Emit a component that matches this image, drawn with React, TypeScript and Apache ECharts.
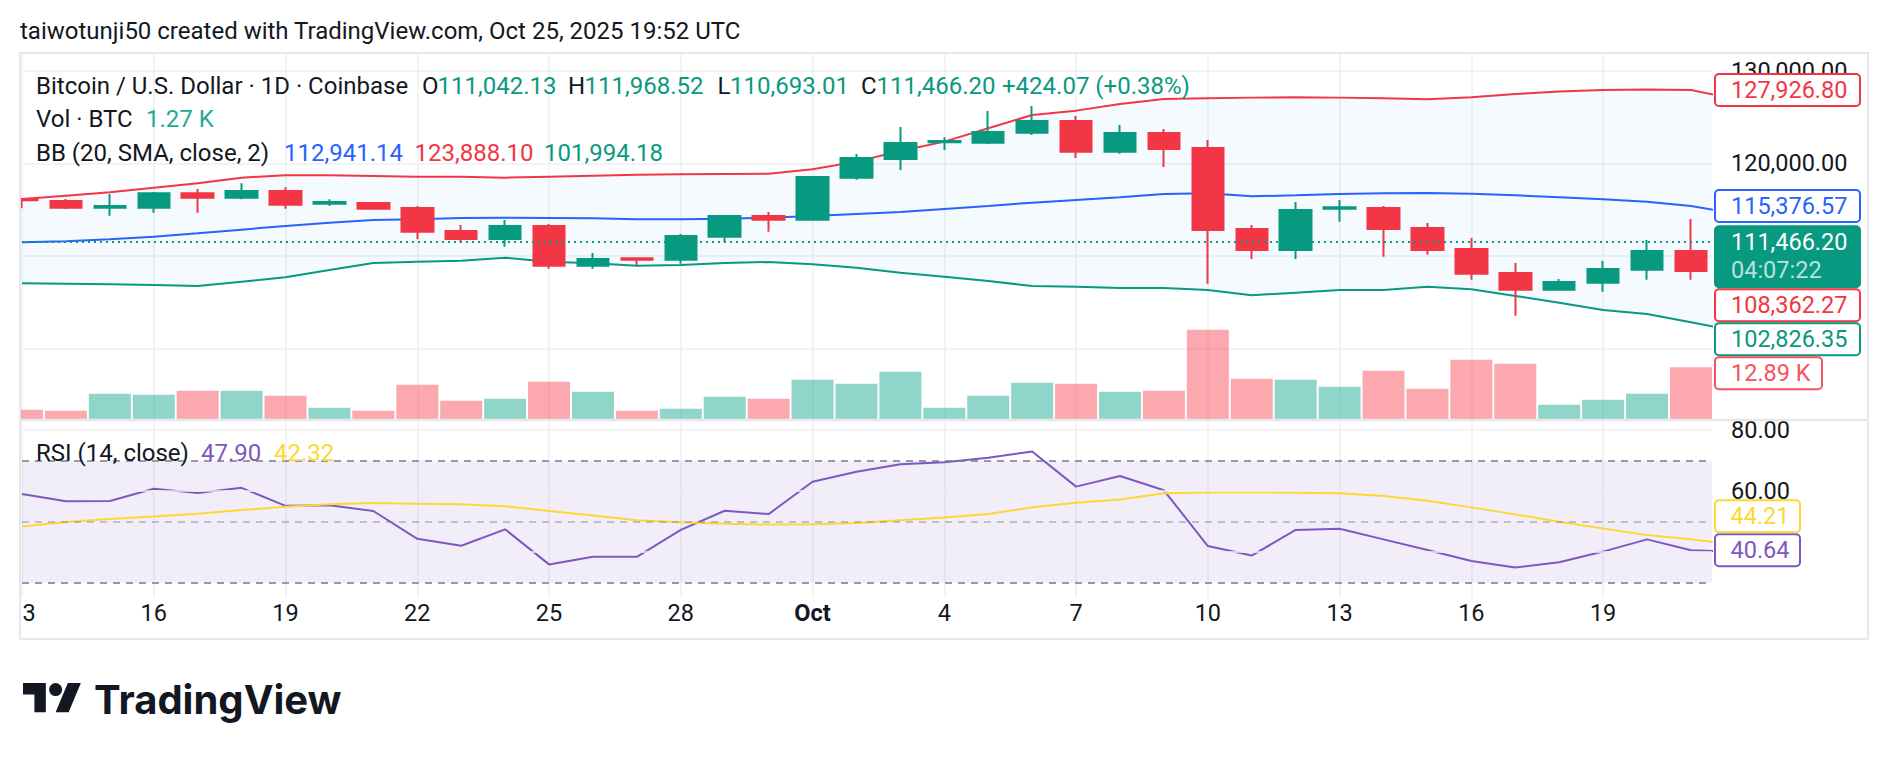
import React, { useEffect, useRef } from "react";
import * as echarts from "echarts";

// ---------------- data ----------------
const headerText = "taiwotunji50 created with TradingView.com, Oct 25, 2025 19:52 UTC";

const dayLabels = [
  "13", "14", "15", "16", "17", "18", "19", "20", "21", "22", "23", "24", "25", "26", "27", "28", "29", "30",
  "Oct", "2", "3", "4", "5", "6", "7", "8", "9", "10", "11", "12", "13", "14", "15", "16", "17", "18", "19", "20", "21",
];

const opens = [
  116144, 115927, 115207, 115207, 116756, 116288, 117009, 115639, 115711, 115171,
  112684, 111819, 113224, 108936, 109729, 109584, 112071, 114306, 113909, 118450,
  120469, 122271, 122234, 123316, 124577, 121261, 123280, 121658, 112900, 110630,
  115099, 115171, 113008, 110738, 108143, 106341, 107098, 108503, 110522,
];
const closes = [
  116000, 115207, 115387, 116756, 116288, 117009, 115531, 115819, 115099, 112612,
  111819, 113224, 108936, 109657, 109584, 112143, 114306, 113909, 118522, 120577,
  122198, 122415, 123388, 124577, 121261, 123280, 121550, 112792, 110630, 114954,
  115243, 112900, 110630, 108071, 106341, 107170, 108575, 110522, 108362.27,
];
const lows = [
  115135, 115063, 114342, 114666, 114666, 116108, 115099, 115423, 115063, 111783,
  111422, 110990, 108611, 108611, 108972, 109152, 111495, 112612, 113873, 118234,
  119279, 121442, 122090, 123063, 120577, 121045, 119604, 106990, 109657, 109657,
  113693, 109909, 110125, 107422, 103529, 106341, 106125, 107422, 107422,
];
const highs = [
  116216, 116144, 116684, 116901, 117225, 117838, 117405, 116108, 115819, 115387,
  113333, 113873, 113441, 110305, 109765, 112360, 114414, 114738, 118630, 121009,
  123928, 122811, 125658, 126199, 125118, 124145, 123712, 122523, 113333, 115819,
  116036, 115387, 113549, 111927, 109224, 107494, 109440, 111711, 113981,
];
// volume in thousands of BTC
const volumes = [
  2.33, 2.08, 6.32, 6.07, 7.07, 7.07, 5.82, 2.83, 2.08, 8.56,
  4.57, 5.07, 9.31, 6.82, 2.08, 2.58, 5.57, 5.07, 9.81, 8.81,
  11.8, 2.83, 5.82, 9.06, 8.81, 6.82, 7.07, 22.28, 10.06, 9.81,
  8.06, 12.05, 7.56, 14.8, 13.8, 3.57, 4.82, 6.32, 12.89,
];
// Bollinger bands (last point lies just past the right edge)
const bbUpper = [
  116144, 116504, 116865, 117369, 117838, 118450, 118703, 118703, 118630, 118558,
  118558, 118450, 118558, 118667, 118775, 118811, 118847, 118883, 119351, 120180,
  121333, 122343, 123784, 125226, 125694, 126415, 126956, 127028, 127100, 127136,
  127100, 127028, 126920, 127136, 127496, 127749, 127929, 127965, 127926.8, 126970,
];
const bbBasis = [
  111458, 111567, 111783, 112071, 112432, 112828, 113224, 113585, 113873, 113945,
  114089, 114125, 114089, 114053, 113945, 113945, 114017, 114125, 114306, 114522,
  114738, 115063, 115387, 115747, 116036, 116324, 116684, 116756, 116432, 116540,
  116684, 116756, 116792, 116720, 116540, 116324, 116108, 115855, 115376.57, 114600,
];
const bbLower = [
  107026, 106990, 106918, 106845, 106737, 107206, 107674, 108468, 109224, 109368,
  109476, 109801, 109369, 109188, 108936, 109008, 109224, 109332, 109080, 108720,
  108179, 107746, 107278, 106737, 106665, 106521, 106521, 106305, 105728, 106017,
  106305, 106305, 106665, 106377, 105656, 104935, 104142, 103710, 102826.35, 101908,
];
const rsi = [
  59.1, 56.7, 56.8, 60.8, 59.4, 61.1, 55.2, 55.4, 53.5, 44.4,
  42.1, 47.5, 36.0, 38.5, 38.5, 47.3, 53.6, 52.5, 63.1, 66.4,
  68.8, 69.5, 71.0, 73.0, 61.5, 65.0, 60.3, 42.0, 38.9, 47.3,
  47.7, 44.2, 40.7, 37.1, 35.0, 36.7, 40.2, 44.2, 40.64, 40.2,
];
const rsiMa = [
  48.4, 49.9, 50.9, 51.7, 52.6, 53.8, 54.9, 55.7, 56.1, 55.9,
  55.7, 55.1, 53.5, 52.0, 50.5, 49.8, 49.3, 49.1, 49.2, 49.6,
  50.5, 51.4, 52.5, 54.7, 56.2, 57.3, 59.3, 59.6, 59.6, 59.5,
  59.3, 58.4, 56.9, 54.7, 52.4, 50.0, 47.8, 45.6, 44.21, 42.5,
];

const currentPrice = 111466.2;
const countdown = "04:07:22";
const ohlcLegend = [
  { k: "O", v: "111,042.13" },
  { k: "H", v: "111,968.52" },
  { k: "L", v: "110,693.01" },
  { k: "C", v: "111,466.20" },
];
const changeLegend = "+424.07 (+0.38%)";
const volLegend = "1.27 K";
const bbLegend = ["112,941.14", "123,888.10", "101,994.18"];
const rsiLegend = ["47.90", "42.32"];

const priceAxisLabels = [130000, 120000];
const rsiAxisLabels = [80, 60];
const rsiSolidLevels = [80, 60, 40];
const rsiDashedLevels = [70, 30];
const rsiMidLevel = 50;

// ---------------- styles / layout ----------------
const FONT = "Roboto, 'Noto Sans', sans-serif";
const TXT = "#131722";
const GREEN = "#089981";
const RED = "#F23645";
const BLUE = "#2962FF";
const PURPLE = "#7E57C2";
const YELLOW = "#FDD835";
const GRIDC = "#EEEFF2";

const PLOT_L = 22;
const PLOT_W = 1690;
const DAY_W = 43.92;
const XMAX = PLOT_W / DAY_W;
const PMAX = 120000 + ((163.3 - 53) / 92.5) * 10000;
const PMIN = 120000 - ((419 - 163.3) / 92.5) * 10000;
const VMAX = 366 * 0.2494;
const RMAX = 30 + (582.7 - 421) / 3.05;
const RMIN = 30 - (598 - 582.7) / 3.05;

const LOGO_PATH =
  "M14 22H7V11H0V4h14v18zM28 22h-8l7.5-18h8L28 22zM24 8a4 4 0 1 1-8 0a4 4 0 1 1 8 0z";

const fmt2 = (v: number) =>
  v.toLocaleString("en-US", { minimumFractionDigits: 2, maximumFractionDigits: 2 });

const isNear = (a: number, b: number) => Math.abs(a - b) < 1e-6;

function txt(text: string, x: number, y: number, fill: string, size = 24, weight: any = "normal", family = FONT) {
  return {
    type: "text",
    z: 100,
    silent: true,
    style: {
      text,
      x,
      y,
      fill,
      fontSize: size,
      fontFamily: family,
      fontWeight: weight,
      align: "left",
      verticalAlign: "middle",
    },
  };
}

function boxRect(x: number, y: number, w: number, h: number, stroke: string, fill: string) {
  return {
    type: "rect",
    z: 99,
    silent: true,
    shape: { x, y, width: w, height: h, r: 4 },
    style: { fill, stroke, lineWidth: 2 },
  };
}

function buildOption() {
  const xFormatter = (v: number) => {
    const r = Math.round(v);
    if (!isNear(v, r) || r % 3 !== 0 || r >= dayLabels.length) return "";
    const lab = dayLabels[r];
    if (r === 0) return "{clip|" + lab.slice(-1) + "}";
    if (lab === "Oct") return "{b|Oct}";
    return lab;
  };
  return {
    animation: false,
    backgroundColor: "#ffffff",
    textStyle: { fontFamily: FONT },
    grid: [
      { left: PLOT_L, top: 53, width: PLOT_W, height: 366 },
      { left: PLOT_L, top: 421, width: PLOT_W, height: 177 },
    ],
    xAxis: [
      {
        type: "value",
        gridIndex: 0,
        min: 0,
        max: XMAX,
        interval: 3,
        axisLine: { show: false },
        axisTick: { show: false },
        axisLabel: { show: false },
        splitLine: { show: true, showMaxLine: false, lineStyle: { color: GRIDC, width: 1.5 } },
      },
      {
        type: "value",
        gridIndex: 1,
        min: 0,
        max: XMAX,
        interval: 3,
        axisLine: { show: false },
        axisTick: { show: false },
        axisLabel: {
          show: true,
          showMinLabel: true,
          margin: 3,
          fontSize: 23.5,
          color: TXT,
          fontFamily: FONT,
          formatter: xFormatter,
          rich: {
            b: { fontWeight: "bold", fontSize: 23.5, color: TXT, fontFamily: FONT },
            clip: { fontSize: 23.5, color: TXT, fontFamily: FONT, padding: [0, 0, 0, 14] },
          },
        },
        splitLine: { show: true, showMaxLine: false, lineStyle: { color: GRIDC, width: 1.5 } },
      },
    ],
    yAxis: [
      {
        type: "value",
        gridIndex: 0,
        position: "right",
        min: PMIN,
        max: PMAX,
        splitNumber: 4,
        axisLine: { show: false },
        axisTick: { show: false },
        axisLabel: {
          margin: 19,
          fontSize: 23.5,
          color: TXT,
          fontFamily: FONT,
          formatter: (v: number) => (priceAxisLabels.some((p) => isNear(p, v)) ? fmt2(v) : ""),
        },
        splitLine: {
          show: true,
          showMinLine: false,
          showMaxLine: false,
          lineStyle: { color: GRIDC, width: 1.5 },
        },
      },
      { type: "value", gridIndex: 0, min: 0, max: VMAX, show: false },
      {
        type: "value",
        gridIndex: 1,
        position: "right",
        min: RMIN,
        max: RMAX,
        splitNumber: 3,
        axisLine: { show: false },
        axisTick: { show: false },
        axisLabel: {
          margin: 19,
          fontSize: 23.5,
          color: TXT,
          fontFamily: FONT,
          formatter: (v: number) => (rsiAxisLabels.some((p) => isNear(p, v)) ? v.toFixed(2) : ""),
        },
        splitLine: { show: false },
      },
    ],
    series: [
      {
        name: "Volume",
        type: "bar",
        xAxisIndex: 0,
        yAxisIndex: 1,
        barWidth: 42,
        clip: true,
        z: 1,
        silent: true,
        data: volumes.map((v, i) => ({
          value: [i, v],
          itemStyle: {
            color: closes[i] >= opens[i] ? "rgba(34,171,148,0.5)" : "rgba(247,82,95,0.5)",
          },
        })),
      },
      {
        name: "BB fill",
        type: "custom",
        xAxisIndex: 0,
        yAxisIndex: 0,
        z: 1,
        silent: true,
        data: [[0, bbBasis[0]]],
        renderItem: (_p: any, api: any) => {
          const pts: number[][] = [];
          const edge = (arr: number[]) => {
            const i0 = Math.floor(XMAX);
            const t = XMAX - i0;
            return arr[i0] + (arr[i0 + 1] - arr[i0]) * t;
          };
          for (let i = 0; i <= Math.floor(XMAX); i++) pts.push(api.coord([i, bbUpper[i]]));
          pts.push(api.coord([XMAX, edge(bbUpper)]));
          pts.push(api.coord([XMAX, edge(bbLower)]));
          for (let i = Math.floor(XMAX); i >= 0; i--) pts.push(api.coord([i, bbLower[i]]));
          return {
            type: "polygon",
            shape: { points: pts },
            style: { fill: "rgba(33,150,243,0.05)" },
          };
        },
      },
      {
        name: "BB upper",
        type: "line",
        xAxisIndex: 0,
        yAxisIndex: 0,
        z: 2,
        showSymbol: false,
        silent: true,
        lineStyle: { color: RED, width: 2 },
        data: bbUpper.map((v, i) => [i, v]),
      },
      {
        name: "BB basis",
        type: "line",
        xAxisIndex: 0,
        yAxisIndex: 0,
        z: 2,
        showSymbol: false,
        silent: true,
        lineStyle: { color: BLUE, width: 2 },
        data: bbBasis.map((v, i) => [i, v]),
      },
      {
        name: "BB lower",
        type: "line",
        xAxisIndex: 0,
        yAxisIndex: 0,
        z: 2,
        showSymbol: false,
        silent: true,
        lineStyle: { color: GREEN, width: 2 },
        data: bbLower.map((v, i) => [i, v]),
      },
      {
        name: "BTCUSD",
        type: "candlestick",
        xAxisIndex: 0,
        yAxisIndex: 0,
        z: 3,
        barWidth: 32,
        clip: true,
        silent: true,
        encode: { x: 0, y: [1, 2, 3, 4] },
        itemStyle: {
          color: GREEN,
          color0: RED,
          borderColor: GREEN,
          borderColor0: RED,
          borderWidth: 2,
        },
        data: opens.map((o, i) => [i, o, closes[i], lows[i], highs[i]]),
        markLine: {
          silent: true,
          symbol: "none",
          label: { show: false },
          lineStyle: { color: GREEN, width: 2, type: [2, 4] },
          data: [{ yAxis: currentPrice }],
        },
      },
      {
        name: "RSI",
        type: "line",
        xAxisIndex: 1,
        yAxisIndex: 2,
        z: 3,
        showSymbol: false,
        silent: true,
        lineStyle: { color: PURPLE, width: 2 },
        data: rsi.map((v, i) => [i, v]),
        markArea: {
          silent: true,
          itemStyle: { color: "rgba(126,87,194,0.1)" },
          data: [[{ yAxis: rsiDashedLevels[0] }, { yAxis: rsiDashedLevels[1] }]],
        },
        markLine: {
          silent: true,
          symbol: "none",
          label: { show: false },
          data: [
            ...rsiSolidLevels.map((l) => ({
              yAxis: l,
              lineStyle: { color: GRIDC, width: 1.5, type: "solid" },
            })),
            ...rsiDashedLevels.map((l) => ({
              yAxis: l,
              lineStyle: { color: "#787B86", width: 1.5, type: [7, 6] },
            })),
            {
              yAxis: rsiMidLevel,
              lineStyle: { color: "rgba(120,123,134,0.55)", width: 1.5, type: [7, 6] },
            },
          ],
        },
      },
      {
        name: "RSI MA",
        type: "line",
        xAxisIndex: 1,
        yAxisIndex: 2,
        z: 3,
        showSymbol: false,
        silent: true,
        lineStyle: { color: YELLOW, width: 2 },
        data: rsiMa.map((v, i) => [i, v]),
      },
    ],
  };
}

function buildGraphic(chart: any) {
  const last = closes.length - 1;
  const els: any[] = [];

  // white margin left of the plot (hides the clipped first bar/candle)
  els.push({
    type: "rect",
    z: 95,
    silent: true,
    shape: { x: 0, y: 53, width: 19.5, height: 546 },
    style: { fill: "#ffffff" },
  });

  // frame and pane separator
  els.push({
    type: "rect",
    z: 96,
    silent: true,
    shape: { x: 20, y: 53, width: 1848, height: 586 },
    style: { fill: "none", stroke: "#E6E8EC", lineWidth: 2 },
  });
  els.push({
    type: "line",
    z: 96,
    silent: true,
    shape: { x1: 20, y1: 420, x2: 1868, y2: 420 },
    style: { stroke: "#E6E8EC", lineWidth: 2.5 },
  });

  // header
  els.push(txt(headerText, 20, 31, TXT, 24));

  // legend line 1
  els.push(txt("Bitcoin / U.S. Dollar · 1D · Coinbase", 36, 86, TXT, 24));
  const ohlcX = [422, 568, 717.5, 861];
  const ohlcW = [15.5, 16.5, 12.5, 15.5];
  ohlcLegend.forEach((o, i) => {
    els.push(txt(o.k, ohlcX[i], 86, TXT, 24));
    els.push(txt(o.v, ohlcX[i] + ohlcW[i], 86, GREEN, 24));
  });
  els.push(txt(changeLegend, 1002, 86, GREEN, 24));
  // legend line 2
  els.push(txt("Vol · BTC", 36, 119, TXT, 24));
  els.push(txt(volLegend, 146, 119, "#22AB94", 24));
  // legend line 3
  els.push(txt("BB (20, SMA, close, 2)", 36, 153, TXT, 24));
  els.push(txt(bbLegend[0], 284, 153, BLUE, 24));
  els.push(txt(bbLegend[1], 414.5, 153, RED, 24));
  els.push(txt(bbLegend[2], 544, 153, GREEN, 24));
  // RSI legend
  els.push(txt("RSI (14, close)", 36, 453, TXT, 24));
  els.push(txt(rsiLegend[0], 201, 453, PURPLE, 24));
  els.push(txt(rsiLegend[1], 274, 453, YELLOW, 24));

  // price scale value boxes
  const pY = (v: number) => chart.convertToPixel({ yAxisIndex: 0 }, v) as number;
  const vY = (v: number) => chart.convertToPixel({ yAxisIndex: 1 }, v) as number;
  const items: any[] = [
    { y: pY(bbUpper[last]), text: fmt2(bbUpper[last]), color: RED, up: 16, down: 16, w: 145 },
    { y: pY(bbBasis[last]), text: fmt2(bbBasis[last]), color: BLUE, up: 16, down: 16, w: 145 },
    { y: pY(currentPrice), text: fmt2(currentPrice), color: GREEN, up: 16, down: 45, w: 145, cur: true },
    { y: pY(closes[last]), text: fmt2(closes[last]), color: RED, up: 16, down: 16, w: 145 },
    { y: pY(bbLower[last]), text: fmt2(bbLower[last]), color: GREEN, up: 16, down: 16, w: 145 },
    { y: vY(volumes[last]), text: volumes[last].toFixed(2) + " K", color: "#F7525F", up: 16, down: 16, w: 107 },
  ];
  items.sort((a, b) => a.y - b.y);
  let prevBottom = -1e9;
  items.forEach((it) => {
    const top = Math.max(it.y - it.up, prevBottom + 2);
    const c = top + it.up;
    prevBottom = top + it.up + it.down;
    if (it.cur) {
      els.push(boxRect(1715, top, it.w, it.up + it.down, GREEN, GREEN));
      els.push(txt(it.text, 1731, c, "#ffffff", 23.5));
      els.push(txt(countdown, 1731, c + 27.5, "rgba(255,255,255,0.72)", 23.5));
    } else {
      els.push(boxRect(1715, top, it.w, it.up + it.down, it.color, "#ffffff"));
      els.push(txt(it.text, 1731, c, it.color, 23.5));
    }
  });

  // RSI scale boxes (pushed upward)
  const rY = (v: number) => chart.convertToPixel({ yAxisIndex: 2 }, v) as number;
  const rItems: any[] = [
    { y: rY(rsi[last]), text: rsi[last].toFixed(2), color: PURPLE },
    { y: rY(rsiMa[last]), text: rsiMa[last].toFixed(2), color: YELLOW },
  ];
  rItems.sort((a, b) => b.y - a.y);
  let prevTop = 1e9;
  rItems.forEach((it) => {
    const bottom = Math.min(it.y + 16, prevTop - 2);
    const top = bottom - 32;
    prevTop = top;
    els.push(boxRect(1715, top, 85, 32, it.color, "#ffffff"));
    els.push(txt(it.text, 1730.5, top + 16, it.color, 23.5));
  });

  // TradingView logo
  els.push({
    type: "tvLogo",
    z: 100,
    silent: true,
    x: 23,
    y: 676.5,
    scaleX: 1.63,
    scaleY: 1.63,
    style: { fill: TXT },
  });
  els.push(txt("TradingView", 94, 699, TXT, 40, 700, "Inter, Roboto, sans-serif"));

  return els;
}

let logoRegistered = false;

export default function App() {
  const ref = useRef<HTMLDivElement>(null);
  useEffect(() => {
    if (!ref.current) return;
    if (!logoRegistered) {
      echarts.graphic.registerShape("tvLogo", echarts.graphic.extendPath(LOGO_PATH, {}) as any);
      logoRegistered = true;
    }
    const chart = echarts.init(ref.current, undefined, { renderer: "svg", width: 1888, height: 760 });
    chart.setOption(buildOption() as any);
    chart.setOption({ graphic: { elements: buildGraphic(chart) } } as any);
    return () => {
      chart.dispose();
    };
  }, []);
  return (
    <div
      ref={ref}
      style={{ position: "fixed", left: 0, top: 0, width: 1888, height: 760, background: "#ffffff" }}
    />
  );
}
